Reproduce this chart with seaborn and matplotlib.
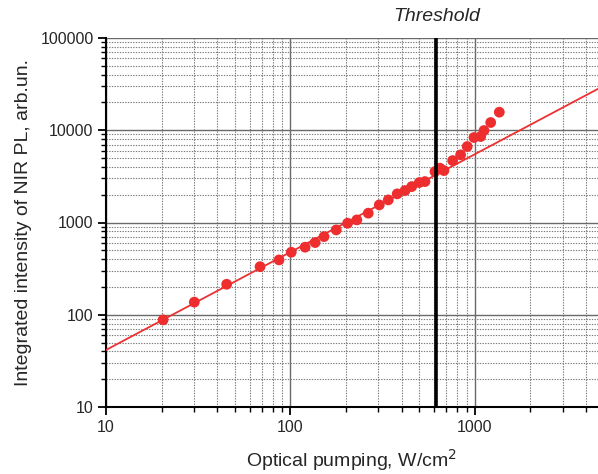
import numpy as np
import pandas as pd
import matplotlib
matplotlib.use("Agg")
import matplotlib.pyplot as plt
import matplotlib.ticker as mticker
import seaborn as sns

# data
pump = [20.4, 30.1, 45.1, 68.4, 86.7, 101, 120, 136, 152, 177, 204, 229, 264, 303,
        339, 379, 418, 454, 499, 536, 607, 646, 679, 757, 836, 908, 988, 1074,
        1119, 1217, 1355]
intensity = [88, 137, 214, 332, 393, 476, 540, 606, 703, 831, 982, 1067, 1262, 1552,
             1758, 2043, 2219, 2450, 2710, 2778, 3565, 3880, 3656, 4690, 5410, 6660,
             8340, 8550, 9930, 12130, 15700]
fit_x = [10, 4645]
fit_y = [41.5, 28100]
threshold = 617
xticks = [10, 100, 1000]
yticks = [10, 100, 1000, 10000, 100000]

sns.set_style("white")
plt.rcParams['font.family'] = ['Liberation Sans', 'DejaVu Sans']

fig = plt.figure(figsize=(5.98, 4.74), dpi=100)
ax = fig.add_axes([106/598, 1 - 407/474, 1 - 106/598, (407 - 38)/474])
ax.set_xscale('log')
ax.set_yscale('log')
ax.set_xlim(10, 4645)
ax.set_ylim(10, 100000)

# grid
ax.grid(which='major', color='#6a6a6a', linestyle='-', linewidth=1.0, zorder=0)
ax.grid(which='minor', color='#7a7a7a', linestyle=(0, (1.2, 1.2)), linewidth=0.8, zorder=0)
ax.set_axisbelow(True)

df = pd.DataFrame({'pump': pump, 'intensity': intensity})
fit = pd.DataFrame({'x': fit_x, 'y': fit_y})
sns.lineplot(data=fit, x='x', y='y', ax=ax, color='#EE3030', linewidth=1.3, zorder=3)
sns.scatterplot(data=df, x='pump', y='intensity', ax=ax, color='#EE2E2E',
                s=60, edgecolor='none', zorder=4)

ax.axvline(threshold, color='black', linewidth=2.6, zorder=5)
ax.text(threshold, 1.035, 'Threshold', transform=ax.get_xaxis_transform(),
        ha='center', va='bottom', fontsize=14, style='italic')

for s in ['top', 'right']:
    ax.spines[s].set_visible(False)
for s in ['left', 'bottom']:
    ax.spines[s].set_color('black')
    ax.spines[s].set_linewidth(1.5)

ax.xaxis.set_major_locator(mticker.FixedLocator(xticks))
ax.xaxis.set_major_formatter(mticker.FixedFormatter([str(v) for v in xticks]))
ax.yaxis.set_major_locator(mticker.FixedLocator(yticks))
ax.yaxis.set_major_formatter(mticker.FixedFormatter([str(v) for v in yticks]))
ax.xaxis.set_minor_locator(mticker.LogLocator(base=10, subs=np.arange(2, 10), numticks=20))
ax.yaxis.set_minor_locator(mticker.LogLocator(base=10, subs=np.arange(2, 10), numticks=20))
ax.xaxis.set_minor_formatter(mticker.NullFormatter())
ax.yaxis.set_minor_formatter(mticker.NullFormatter())
ax.tick_params(which='major', direction='out', length=6, width=1.3, color='black',
               labelsize=11.5, bottom=True, left=True, pad=3)
ax.tick_params(which='minor', direction='out', length=3.5, width=1.0, color='black',
               bottom=True, left=True)

ax.set_xlabel('Optical pumping, W/cm$^2$', fontsize=14, labelpad=9)
ax.set_ylabel('Integrated intensity of NIR PL, arb.un.', fontsize=14, labelpad=6)

fig.savefig('out.png', dpi=100)
